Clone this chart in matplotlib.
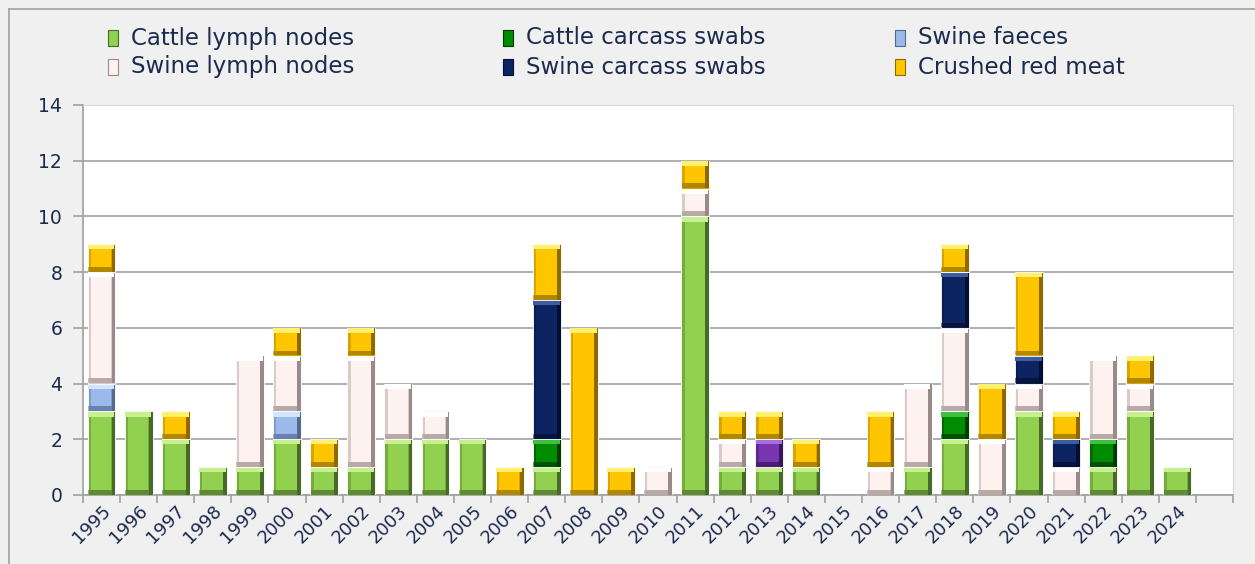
import numpy as np
import matplotlib
matplotlib.use('Agg')
import matplotlib.pyplot as plt
from matplotlib.patches import Rectangle
from matplotlib.lines import Line2D

years = ['1995', '1996', '1997', '1998', '1999', '2000', '2001', '2002', '2003', '2004',
         '2005', '2006', '2007', '2008', '2009', '2010', '2011', '2012', '2013', '2014',
         '2015', '2016', '2017', '2018', '2019', '2020', '2021', '2022', '2023', '2024', '']

cattle_lymph = [3, 3, 2, 1, 1, 2, 1, 1, 2, 2, 2, 0, 1, 0, 0, 0, 10, 1, 1, 1, 0, 0, 1, 2, 0, 3, 0, 1, 3, 1, 0]
cattle_swabs = [0, 0, 0, 0, 0, 0, 0, 0, 0, 0, 0, 0, 1, 0, 0, 0, 0, 0, 0, 0, 0, 0, 0, 1, 0, 0, 0, 1, 0, 0, 0]
swine_faeces = [1, 0, 0, 0, 0, 1, 0, 0, 0, 0, 0, 0, 0, 0, 0, 0, 0, 0, 0, 0, 0, 0, 0, 0, 0, 0, 0, 0, 0, 0, 0]
swine_lymph = [4, 0, 0, 0, 4, 2, 0, 4, 2, 1, 0, 0, 0, 0, 0, 1, 1, 1, 0, 0, 0, 1, 3, 3, 2, 1, 1, 3, 1, 0, 0]
swine_swabs = [0, 0, 0, 0, 0, 0, 0, 0, 0, 0, 0, 0, 5, 0, 0, 0, 0, 0, 0, 0, 0, 0, 0, 2, 0, 1, 1, 0, 0, 0, 0]
other = [0, 0, 0, 0, 0, 0, 0, 0, 0, 0, 0, 0, 0, 0, 0, 0, 0, 0, 1, 0, 0, 0, 0, 0, 0, 0, 0, 0, 0, 0, 0]
crushed_meat = [1, 0, 1, 0, 0, 1, 1, 1, 0, 0, 0, 1, 2, 6, 1, 0, 1, 1, 1, 1, 0, 2, 0, 1, 2, 3, 1, 0, 1, 0, 0]

# name, values, (face, light, mid, dark), in legend
series = [
    ('Cattle lymph nodes', cattle_lymph, ('#92d050', '#c8f090', '#76ac3c', '#47692a'), True),
    ('Cattle carcass swabs', cattle_swabs, ('#008c00', '#40c040', '#006800', '#003c00'), True),
    ('Swine faeces', swine_faeces, ('#9db8ea', '#d4e4ff', '#7f9bcc', '#55698f'), True),
    ('Swine lymph nodes', swine_lymph, ('#fdf2ef', '#ffffff', '#dacbc8', '#9a8a8a'), True),
    ('Swine carcass swabs', swine_swabs, ('#0c2462', '#3c5ca4', '#0a1c50', '#040e2e'), True),
    ('Other', other, ('#7a36b2', '#aa6ce2', '#5e2890', '#3a165e'), False),
    ('Crushed red meat', crushed_meat, ('#ffc600', '#fff070', '#d9a600', '#8c6a00'), True),
]

text_col = '#1c2a4e'
fig = plt.figure(figsize=(12.55, 5.64), dpi=100, facecolor='#f0f0f0')
ax = fig.add_axes([83 / 1255, 1 - 495 / 564, 1150 / 1255, 390 / 564])
ax.set_facecolor('white')

x = np.arange(len(years))
w = 0.75
dx = 0.1
bv = 0.17
bottom = np.zeros(len(years))
for name, vals, (face, light, mid, dark), _ in series:
    v = np.array(vals, dtype=float)
    m = v > 0
    xs, hs, bs = x[m], v[m], bottom[m]
    ax.bar(xs, hs, w, bs, color=mid, edgecolor='white', linewidth=0.6, zorder=3)
    ax.bar(xs + w / 2 - dx / 2, hs - 0.03, dx, bs + 0.015, color=dark, linewidth=0, zorder=3)
    ax.bar(xs, bv, w - 0.02, bs + 0.015, color=dark, alpha=0.5, linewidth=0, zorder=3)
    ax.bar(xs - 0.01, bv, w - 0.04, bs + hs - bv - 0.015, color=light, linewidth=0, zorder=3)
    ax.bar(xs - 0.01, hs - 2 * bv - 0.03, w - 2 * dx, bs + bv + 0.015, color=face, linewidth=0, zorder=4)
    bottom = bottom + v

ax.set_xlim(-0.5, len(years) - 0.5)
ax.set_ylim(0, 14)
ax.set_yticks(np.arange(0, 15, 2))
ax.yaxis.grid(True, color='#a8a8b0', linewidth=1.3, zorder=0)
ax.set_axisbelow(True)

ax.set_xticks(x)
ax.set_xticklabels(years, rotation=45, ha='right', rotation_mode='anchor', fontsize=13, color=text_col)
ax.set_xticks(np.arange(-0.5, len(years)), minor=True)
ax.tick_params(axis='x', which='major', length=0, pad=5)
ax.tick_params(axis='x', which='minor', length=6, color='#a0a0a0', width=1.2)
ax.tick_params(axis='y', length=7, color='#a0a0a0', width=1.2, labelsize=13.5, labelcolor=text_col, pad=8)

for s in ['left', 'bottom']:
    ax.spines[s].set_color('#a0a0a0')
    ax.spines[s].set_linewidth(1.2)
for s in ['top', 'right']:
    ax.spines[s].set_color('#d8d8d8')

# outer chart border
fig.add_artist(Line2D([9 / 1255, 9 / 1255], [0, 1 - 9 / 564], color='#a0a0a0', lw=1.2))
fig.add_artist(Line2D([9 / 1255, 1], [1 - 9 / 564, 1 - 9 / 564], color='#a0a0a0', lw=1.2))

# legend, row by row
leg_items = [s for s in series if s[3]]
col_x = [113, 508, 900]
row_y = [38, 67]
for k, (name, _, (face, light, mid, dark), _) in enumerate(leg_items):
    r, c = divmod(k, 3)
    px, py = col_x[c], row_y[r]
    fig.add_artist(Rectangle(((px - 5) / 1255, 1 - (py + 8) / 564), 10 / 1255, 16 / 564,
                             transform=fig.transFigure, facecolor=face, edgecolor=dark, lw=0.8))
    fig.text((px + 18) / 1255, 1 - py / 564, name, fontsize=16.5, color=text_col, va='center', ha='left')

fig.savefig('out.png', dpi=100, facecolor=fig.get_facecolor())
